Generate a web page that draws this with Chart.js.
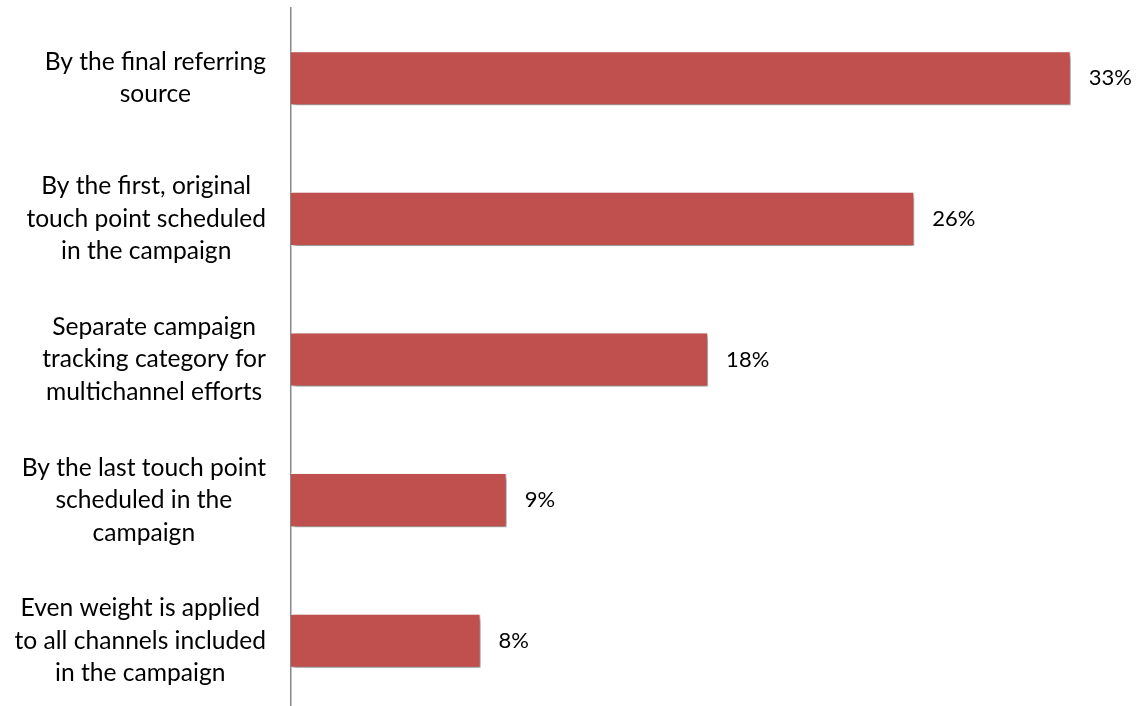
<!DOCTYPE html>
<html>
<head>
<meta charset="utf-8">
<script src="https://cdn.jsdelivr.net/npm/chart.js@4/dist/chart.umd.min.js"></script>
<style>
  html, body { margin: 0; padding: 0; background: #fff; overflow: hidden; }
  #wrap { width: 1138px; height: 720px; position: relative; }
</style>
</head>
<body>
<div id="wrap"><canvas id="myChart"></canvas></div>
<script>
const categories = [
  ["By the final referring", "source"],
  ["By the first, original", "touch point scheduled", "in the campaign"],
  ["Separate campaign", "tracking category for", "multichannel efforts"],
  ["By the last touch point", "scheduled in the", "campaign"],
  ["Even weight is applied", "to all channels included", "in the campaign"]
];
const values = [32.9, 26.3, 17.6, 9.1, 8.0];
const valueLabels = ["33%", "26%", "18%", "9%", "8%"];

const LABEL_FONT = "24.6px Lato";
const VALUE_FONT = "22px Lato";

// bar shadow + labels drawn on the canvas
const barExtras = {
  id: "barExtras",
  beforeDatasetsDraw(chart) {
    const ctx = chart.ctx;
    ctx.save();
    ctx.shadowColor = "rgba(0,0,0,0.5)";
    ctx.shadowBlur = 5;
    ctx.shadowOffsetX = 2;
    ctx.shadowOffsetY = 3;
  },
  afterDatasetsDraw(chart) {
    const ctx = chart.ctx;
    ctx.restore();
    const meta = chart.getDatasetMeta(0);
    const yScale = chart.scales.y;
    ctx.save();
    ctx.fillStyle = "#000";
    ctx.textBaseline = "middle";
    ctx.font = VALUE_FONT;
    meta.data.forEach((bar, i) => {
      ctx.textAlign = "left";
      ctx.fillText(valueLabels[i], bar.x + 18, bar.y);
    });
    // category labels: block right edge at 266, lines centered in block
    ctx.font = LABEL_FONT;
    const lineH = 32.5;
    categories.forEach((lines, i) => {
      const cy = yScale.getPixelForTick(i);
      const w = Math.max(...lines.map((l) => ctx.measureText(l).width));
      const cx = 266 - w / 2;
      ctx.textAlign = "center";
      lines.forEach((l, j) => {
        const y = cy + (j - (lines.length - 1) / 2) * lineH;
        ctx.fillText(l, cx, y);
      });
    });
    ctx.restore();
  }
};

const myChart = new Chart("myChart", {
  type: "bar",
  data: {
    labels: categories,
    datasets: [
      {
        label: "Share",
        data: values,
        backgroundColor: "#C0504D",
        borderColor: "rgba(255,255,255,0.7)",
        borderWidth: 1,
        borderSkipped: "left",
        categoryPercentage: 1,
        barPercentage: 0.385,
      },
    ],
  },
  options: {
    indexAxis: "y",
    responsive: true,
    maintainAspectRatio: false,
    animation: false,
    layout: { padding: { left: 291, right: 17.5, top: 8, bottom: 9 } },
    plugins: { legend: { display: false }, tooltip: { enabled: false } },
    scales: {
      x: { display: false, min: 0, max: 35 },
      y: {
        ticks: { display: false },
        grid: { display: false, drawTicks: false },
        border: { display: true, color: "#888", width: 1.5 },
        afterFit: (scale) => { scale.width = 0; },
      },
    },
  },
  plugins: [barExtras],
});
</script>
</body>
</html>
